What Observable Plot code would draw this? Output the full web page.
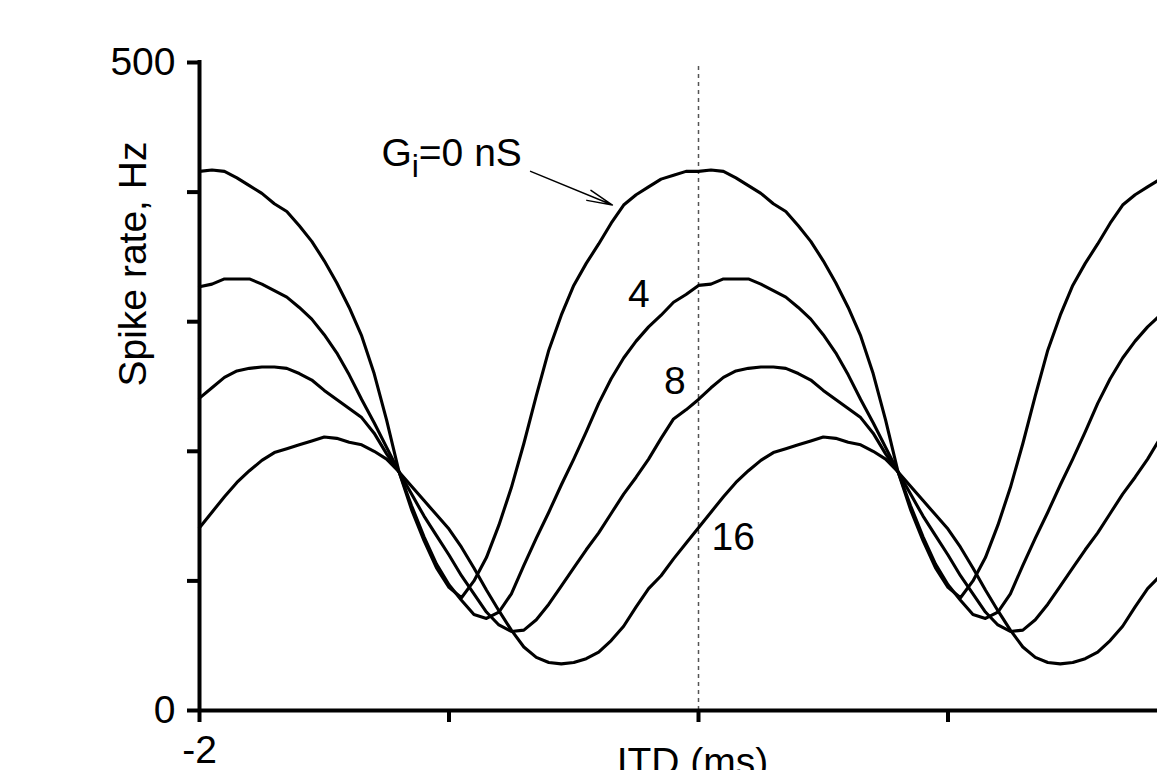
<!DOCTYPE html>
<html><head><meta charset="utf-8">
<script src="https://cdn.jsdelivr.net/npm/d3@7"></script>
<script src="https://cdn.jsdelivr.net/npm/@observablehq/plot@0.6"></script>
<style>
html,body{margin:0;padding:0;background:#fff;overflow:hidden;}
#wrap{width:1157px;height:770px;overflow:hidden;position:relative;background:#fff;}
#wrap svg{max-width:none !important;display:block;}
</style></head><body><div id="wrap"></div>
<script>
// ITD (ms)
const itd = [-2,-1.95,-1.9,-1.85,-1.8,-1.75,-1.7,-1.65,-1.6,-1.55,-1.5,-1.45,-1.4,-1.35,-1.3,-1.25,-1.2,-1.15,-1.1,-1.05,
  -1,-0.95,-0.9,-0.85,-0.8,-0.75,-0.7,-0.65,-0.6,-0.55,-0.5,-0.45,-0.4,-0.35,-0.3,-0.25,-0.2,-0.15,-0.1,-0.05,
  0,0.05,0.1,0.15,0.2,0.25,0.3,0.35,0.4,0.45,0.5,0.55,0.6,0.65,0.7,0.75,0.8,0.85,0.9,0.95,
  1,1.05,1.1,1.15,1.2,1.25,1.3,1.35,1.4,1.45,1.5,1.55,1.6,1.65,1.7,1.75,1.8,1.85,1.9,1.95,2];

// Spike rate (Hz) for each inhibitory conductance
const rateG0 = [416,417,416,411,405,399,391,385,374,362,347,330,311,289,260,224,184,155,131,110,
  95,87,100,118,143,172,206,243,278,305,328,345,360,376,390,398,404,410,413,416,
  416,417,416,411,405,399,391,385,374,362,347,330,311,289,260,224,184,155,131,110,
  95,87,100,118,143,172,206,243,278,305,328,345,360,376,390,398,404,410,413,416,416];
const rateG4 = [327,329,333,333,333,329,324,319,311,302,290,276,259,240,222,203,184,158,134,113,
  97,85,74,71,76,90,112,133,153,174,194,215,237,256,272,285,296,305,315,321,
  328,329,333,333,333,329,324,319,311,302,290,276,259,240,222,203,184,158,134,113,
  97,85,74,71,76,90,112,133,153,174,194,215,237,256,272,285,296,305,315,321,328];
const rateG8 = [241,249,257,262,264,265,265,264,260,255,247,240,233,226,214,198,184,167,150,135,
  120,104,90,76,66,61,62,70,82,96,110,124,137,152,167,180,194,210,225,232,
  240,249,257,262,264,265,265,264,260,255,247,240,233,226,214,198,184,167,150,135,
  120,104,90,76,66,61,62,70,82,96,110,124,137,152,167,180,194,210,225,232,240];
const rateG16 = [141,153,165,176,185,193,199,202,205,208,211,210,207,205,200,194,184,173,162,151,
  140,126,110,93,77,62,49,41,37,36,37,40,45,54,65,80,94,104,117,129,
  141,153,165,176,185,193,199,202,205,208,211,210,207,205,200,194,184,173,162,151,
  140,126,110,93,77,62,49,41,37,36,37,40,45,54,65,80,94,104,117,129,141];

const conductances = ["0", "4", "8", "16"];
const yTicks = [0, 100, 200, 300, 400, 500];
const yTickLabels = [0, 500];
const xTicks = [-2, -1, 0, 1, 2];
const xTickLabels = [-2];
const curveLabels = ["Gi=0 nS", "4", "8", "16"];
const labelItd = [-1.271, -0.283, -0.138, 0.052];
const labelRate = [420.5, 311, 244, 123.5];
const arrowFrom = [-0.673, 416];
const arrowTo = [-0.345, 390];

const series = [rateG0, rateG4, rateG8, rateG16];
const rows = series.flatMap((s, k) => s.map((v, i) => ({itd: itd[i], rate: v, g: conductances[k]})));
const labels = curveLabels.map((t, i) => ({label: t, itd: labelItd[i], rate: labelRate[i]}));
const arrows = [{x1: arrowFrom[0], y1: arrowFrom[1], x2: arrowTo[0], y2: arrowTo[1]}];

const font = "'Liberation Sans', Arial, Helvetica, sans-serif";
const FS = 39;

const chart = Plot.plot({
  width: 1260, height: 820,
  marginLeft: 199, marginRight: 63, marginTop: 62, marginBottom: 110,
  style: {fontFamily: font, background: "#fff", color: "#000", overflow: "visible"},
  x: {domain: [-2, 2]},
  y: {domain: [0, 500]},
  marks: [
    Plot.ruleX([0], {y1: 0, y2: 500, stroke: "#555", strokeWidth: 1.5, strokeDasharray: "4,4"}),
    Plot.line(rows, {x: "itd", y: "rate", z: "g", stroke: "#000", strokeWidth: 3.1}),
    Plot.axisY({ticks: yTicks, tickSize: 12, tickPadding: 12, strokeWidth: 4, fontSize: FS,
      tickFormat: d => yTickLabels.includes(d) ? String(d) : "", label: null}),
    Plot.axisX({ticks: xTicks, tickSize: 12, tickPadding: 13, strokeWidth: 4, fontSize: FS,
      tickFormat: d => xTickLabels.includes(d) ? String(d) : "", label: null}),
    Plot.ruleX([-2], {stroke: "#000", strokeWidth: 4, strokeLinecap: "square"}),
    Plot.ruleY([0], {stroke: "#000", strokeWidth: 4}),
    Plot.text(["ITD (ms)"], {frameAnchor: "bottom", lineAnchor: "top", dy: 37, dx: -6, fontSize: FS}),
    Plot.text(["Spike rate, Hz"], {frameAnchor: "left", rotate: -90, lineAnchor: "top", dx: -81, fontSize: FS}),
    Plot.text(labels, {x: "itd", y: "rate", text: "label", textAnchor: "start", lineAnchor: "bottom", fontSize: FS}),
    Plot.arrow(arrows, {x1: "x1", y1: "y1", x2: "x2", y2: "y2", stroke: "#000", strokeWidth: 1.5, headLength: 26, headAngle: 24})
  ]
});
chart.style.maxWidth = "none";

// subscript i in "Gi=0 nS"
const ns = "http://www.w3.org/2000/svg";
chart.querySelectorAll("text").forEach(t => {
  if (t.textContent === "Gi=0 nS") {
    t.textContent = "G";
    const sub = document.createElementNS(ns, "tspan");
    sub.textContent = "i";
    sub.setAttribute("dy", "11");
    sub.setAttribute("font-size", "32");
    const rest = document.createElementNS(ns, "tspan");
    rest.textContent = "=0 nS";
    rest.setAttribute("dy", "-11");
    t.appendChild(sub);
    t.appendChild(rest);
  }
});
document.getElementById("wrap").appendChild(chart);
</script>
</body></html>
